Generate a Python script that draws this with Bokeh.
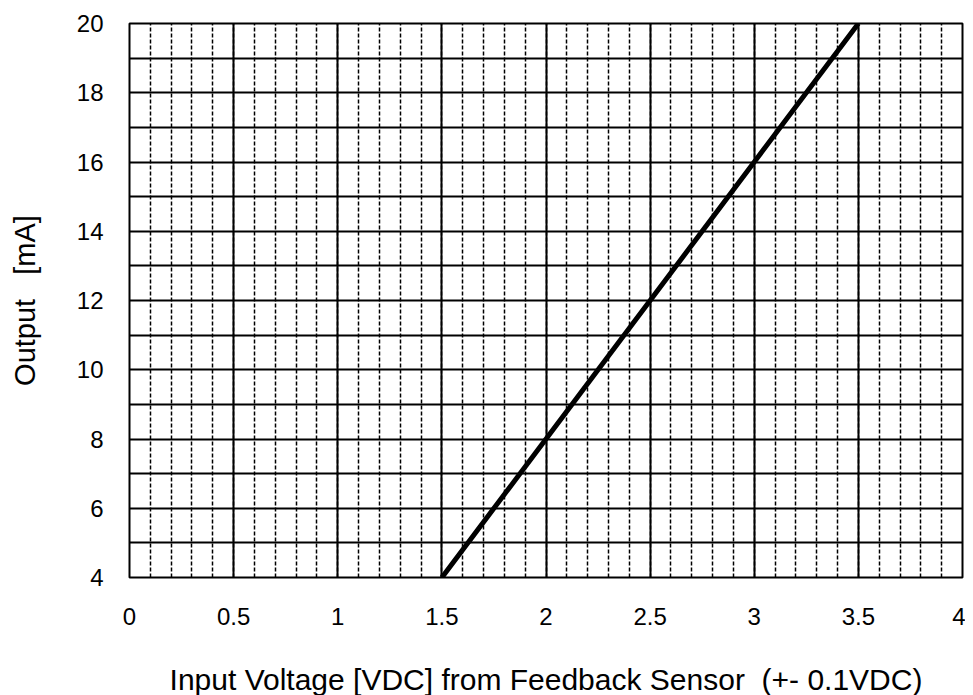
from bokeh.plotting import figure
from bokeh.models import Range1d, FixedTicker
from bokeh.embed import file_html
from bokeh.resources import INLINE

# data
volts = [1.5, 2.0, 2.5, 3.0, 3.5]
current_ma = [4, 8, 12, 16, 20]

x_major = [0, 0.5, 1, 1.5, 2, 2.5, 3, 3.5, 4]
x_labels = ["0", "0.5", "1", "1.5", "2", "2.5", "3", "3.5", "4"]
x_minor = [round(i * 0.1, 1) for i in range(0, 41)]
y_major = [4, 6, 8, 10, 12, 14, 16, 18, 20]
y_labels = ["4", "6", "8", "10", "12", "14", "16", "18", "20"]
y_grid = list(range(4, 21))

x_title = "Input Voltage [VDC] from Feedback Sensor\u00a0\u00a0(+- 0.1VDC)"
y_title = "Output\u00a0\u00a0\u00a0[mA]"

FONT = "Liberation Sans"

p = figure(width=965, height=695, frame_width=833, frame_height=554,
           x_range=Range1d(0, 4), y_range=Range1d(4, 20),
           output_backend="svg", toolbar_location=None,
           min_border_left=129, min_border_top=23, min_border_right=3,
           min_border_bottom=118)

p.outline_line_color = "black"
p.outline_line_width = 2
p.outline_line_alpha = 1

p.xaxis.ticker = FixedTicker(ticks=x_major, minor_ticks=x_minor)
p.xaxis.major_label_overrides = {float(k): v for k, v in zip(x_major, x_labels)}
p.yaxis.ticker = FixedTicker(ticks=y_major)
p.yaxis.major_label_overrides = {float(k): v for k, v in zip(y_major, y_labels)}

for ax in (p.xaxis[0], p.yaxis[0]):
    ax.axis_line_color = None
    ax.major_tick_line_color = None
    ax.minor_tick_line_color = None
    ax.major_tick_out = 0
    ax.major_tick_in = 0
    ax.major_label_text_font = FONT
    ax.major_label_text_font_size = "24px"
    ax.major_label_text_color = "black"
    ax.axis_label_text_font = FONT
    ax.axis_label_text_font_size = "30px"
    ax.axis_label_text_font_style = "normal"
    ax.axis_label_text_color = "black"

p.yaxis.axis_label_text_font_size = "29px"
p.xaxis.major_label_standoff = 26
p.yaxis.major_label_standoff = 26
p.xaxis.axis_label = x_title
p.yaxis.axis_label = y_title
p.xaxis.axis_label_standoff = 35
p.yaxis.axis_label_standoff = 33

p.xgrid.ticker = FixedTicker(ticks=x_major, minor_ticks=x_minor)
p.xgrid.grid_line_color = "black"
p.xgrid.grid_line_width = 2
p.xgrid.grid_line_alpha = 1
p.xgrid.minor_grid_line_color = "black"
p.xgrid.minor_grid_line_width = 1.5
p.xgrid.minor_grid_line_dash = "4 2"

p.ygrid.ticker = FixedTicker(ticks=y_grid)
p.ygrid.grid_line_color = "black"
p.ygrid.grid_line_width = 2
p.ygrid.grid_line_alpha = 1

p.line(volts, current_ma, line_color="black", line_width=5)

p.background_fill_color = "white"
p.border_fill_color = "white"

open("out.html", "w").write(file_html(p, INLINE))
